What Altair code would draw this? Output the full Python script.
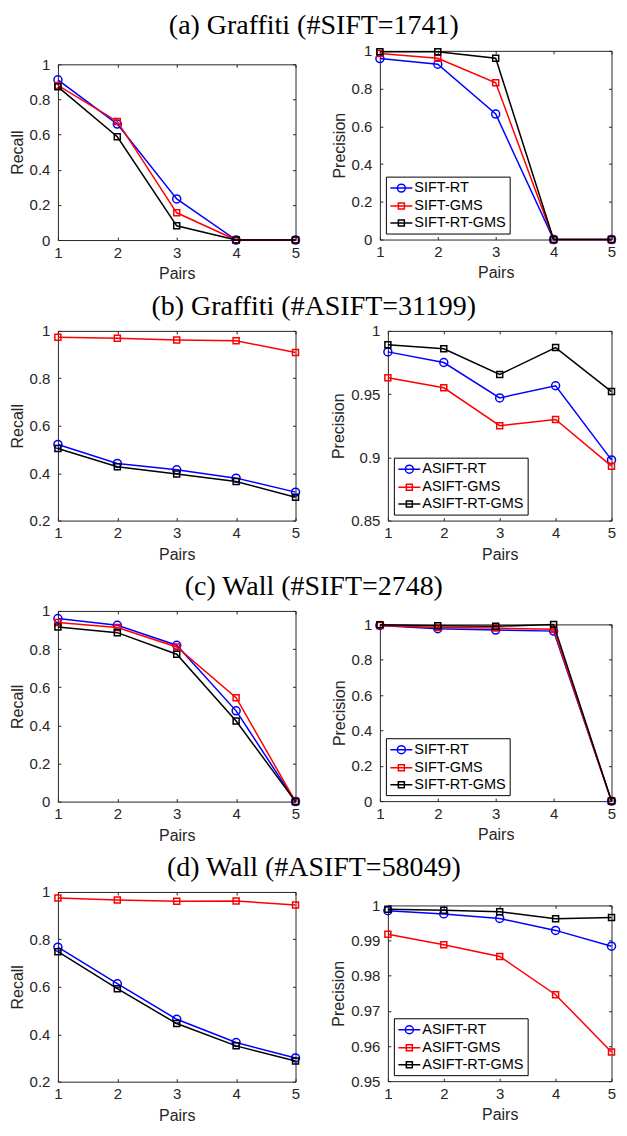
import altair as alt
import pandas as pd

pairs = [1, 2, 3, 4, 5]

# (a) Graffiti, SIFT
a_rec_rt = [0.912, 0.660, 0.234, 0.0, 0.0]
a_rec_gms = [0.880, 0.675, 0.155, 0.0, 0.0]
a_rec_rtgms = [0.872, 0.588, 0.081, 0.0, 0.0]
a_pre_rt = [0.959, 0.929, 0.665, 0.0, 0.0]
a_pre_gms = [0.986, 0.961, 0.831, 0.0, 0.0]
a_pre_rtgms = [0.995, 0.995, 0.961, 0.0, 0.0]

# (b) Graffiti, ASIFT
b_rec_rt = [0.521, 0.441, 0.414, 0.379, 0.320]
b_rec_gms = [0.973, 0.969, 0.962, 0.958, 0.909]
b_rec_rtgms = [0.504, 0.427, 0.396, 0.365, 0.298]
b_pre_rt = [0.9834, 0.975, 0.947, 0.9566, 0.898]
b_pre_gms = [0.963, 0.955, 0.925, 0.930, 0.893]
b_pre_rtgms = [0.989, 0.9858, 0.9655, 0.9868, 0.952]

# (c) Wall, SIFT
c_rec_rt = [0.960, 0.925, 0.820, 0.476, 0.0]
c_rec_gms = [0.939, 0.913, 0.811, 0.545, 0.0]
c_rec_rtgms = [0.916, 0.886, 0.773, 0.423, 0.0]
c_pre_rt = [0.994, 0.976, 0.968, 0.962, 0.0]
c_pre_gms = [0.994, 0.983, 0.979, 0.972, 0.0]
c_pre_rtgms = [0.998, 0.992, 0.989, 1.0, 0.0]

# (d) Wall, ASIFT
d_rec_rt = [0.767, 0.613, 0.463, 0.365, 0.300]
d_rec_gms = [0.975, 0.966, 0.961, 0.962, 0.945]
d_rec_rtgms = [0.748, 0.592, 0.445, 0.351, 0.287]
d_pre_rt = [0.9985, 0.9976, 0.9963, 0.9929, 0.9884]
d_pre_gms = [0.9918, 0.9888, 0.9855, 0.9746, 0.9583]
d_pre_rtgms = [0.9989, 0.9986, 0.9982, 0.9962, 0.9966]

sift_labels = ["SIFT-RT", "SIFT-GMS", "SIFT-RT-GMS"]
asift_labels = ["ASIFT-RT", "ASIFT-GMS", "ASIFT-RT-GMS"]
titles = ["(a) Graffiti (#SIFT=1741)", "(b) Graffiti (#ASIFT=31199)",
          "(c) Wall (#SIFT=2748)", "(d) Wall (#ASIFT=58049)"]

ticks_full = [0.0, 0.2, 0.4, 0.6, 0.8, 1.0]
ticks_rec_hi = [0.2, 0.4, 0.6, 0.8, 1.0]
ticks_pre_b = [0.85, 0.9, 0.95, 1.0]
ticks_pre_d = [0.95, 0.96, 0.97, 0.98, 0.99, 1.0]

colors = ["#0000ff", "#ff0000", "#000000"]
shapes = ["circle", "square", "square"]
sizes = [64, 36, 36]
# legend symbols: short line with marker on it
legend_paths = [
    "M-1,0H2.143M1.143,0A0.571,0.571,0,1,1,0,0A0.571,0.571,0,1,1,1.143,0Z",
    "M-1,0H2.143M0.143,-0.429H1V0.429H0.143Z",
    "M-1,0H2.143M0.143,-0.429H1V0.429H0.143Z",
]

AX = "#262626"


def panel(series, labels, ytitle, ydomain, yticks, width, height, legend=False):
    rows = []
    for lab, vals in zip(labels, series):
        for p, v in zip(pairs, vals):
            rows.append({"pair": p, "value": v, "series": lab})
    df = pd.DataFrame(rows)
    xs = alt.Scale(domain=[1, 5], nice=False, zero=False)
    ys = alt.Scale(domain=ydomain, nice=False, zero=False)
    ax_bottom = alt.Axis(orient="bottom", values=pairs, format="d", offset=-3,
                         tickSize=3, domain=False, grid=False, labelPadding=5,
                         labelFlush=False, title="Pairs", titlePadding=5.5)
    ax_top = alt.Axis(orient="top", values=pairs, offset=-3, tickSize=3,
                      domain=False, grid=False, labels=False, title=None)
    ax_left = alt.Axis(orient="left", values=yticks, format="~g", offset=-3,
                       tickSize=3, domain=False, grid=False, labelPadding=8,
                       labelFlush=False, title=ytitle, titlePadding=4)
    ax_right = alt.Axis(orient="right", values=yticks, offset=-3, tickSize=3,
                        domain=False, grid=False, labels=False, title=None)
    layers = []
    for i, lab in enumerate(labels):
        base = alt.Chart(df).transform_filter(alt.datum.series == lab)
        lx = ax_bottom if i == 0 else None
        ly = ax_left if i == 0 else None
        px = ax_top if i == 0 else None
        py = ax_right if i == 0 else None
        line = base.mark_line(color=colors[i], strokeWidth=1.5).encode(
            x=alt.X("pair:Q", scale=xs, axis=lx),
            y=alt.Y("value:Q", scale=ys, axis=ly),
        )
        pts = base.mark_point(shape=shapes[i], size=sizes[i], filled=False,
                              color=colors[i], strokeWidth=1.5, opacity=1).encode(
            x=alt.X("pair:Q", scale=xs, axis=px),
            y=alt.Y("value:Q", scale=ys, axis=py),
        )
        layers += [line, pts]
    if legend:
        leg = alt.Legend(title=None, orient="bottom-left", offset=6, padding=3.5,
                         strokeColor="#000000", fillColor="white",
                         symbolSize=196, symbolStrokeWidth=1.5,
                         labelFont="Liberation Sans", labelFontSize=14.5,
                         labelColor="#000000", labelOffset=9, rowPadding=2)
        carrier = alt.Chart(df).transform_filter("datum.pair < 0").mark_point(
            filled=False, strokeWidth=1.5, opacity=1).encode(
            x=alt.X("pair:Q", scale=xs, axis=None),
            y=alt.Y("value:Q", scale=ys, axis=None),
            color=alt.Color("series:N", scale=alt.Scale(domain=labels, range=colors), legend=leg),
            shape=alt.Shape("series:N", scale=alt.Scale(domain=labels, range=legend_paths), legend=leg),
        )
        layers.append(carrier)
    return alt.layer(*layers).resolve_axis(
        x="independent", y="independent").properties(width=width, height=height)


def lowered(chart, width):
    # an empty, invisible strip above a panel so that its frame starts lower
    spacer = alt.Chart(pd.DataFrame({"pair": []})).mark_point().encode(
        x=alt.X("pair:Q", axis=None)
    ).properties(width=width, height=1, view=alt.ViewBackground(stroke="transparent"))
    return alt.vconcat(spacer, chart, spacing=3.5).resolve_scale(
        color="independent", shape="independent")


def row(title, left, right, offset):
    return alt.hconcat(left, right, spacing=26.5,
                       title=alt.TitleParams(title, font="Liberation Serif", fontSize=28,
                                             fontWeight="normal", color="#000000",
                                             anchor="middle", offset=offset)
                       ).resolve_scale(color="independent", shape="independent")


row_a = row(titles[0],
            lowered(panel([a_rec_rt, a_rec_gms, a_rec_rtgms], sift_labels, "Recall", [0, 1], ticks_full, 238, 176), 238),
            panel([a_pre_rt, a_pre_gms, a_pre_rtgms], sift_labels, "Precision", [0, 1], ticks_full, 232, 189, legend=True),
            3)
row_b = row(titles[1],
            panel([b_rec_rt, b_rec_gms, b_rec_rtgms], asift_labels, "Recall", [0.2, 1], ticks_rec_hi, 238, 190),
            panel([b_pre_rt, b_pre_gms, b_pre_rtgms], asift_labels, "Precision", [0.85, 1], ticks_pre_b, 224, 190, legend=True),
            2.5)
row_c = row(titles[2],
            panel([c_rec_rt, c_rec_gms, c_rec_rtgms], sift_labels, "Recall", [0, 1], ticks_full, 238, 191),
            lowered(panel([c_pre_rt, c_pre_gms, c_pre_rtgms], sift_labels, "Precision", [0, 1], ticks_full, 232, 177, legend=True), 232),
            2.5)
row_d = row(titles[3],
            panel([d_rec_rt, d_rec_gms, d_rec_rtgms], asift_labels, "Recall", [0.2, 1], ticks_rec_hi, 238, 190),
            lowered(panel([d_pre_rt, d_pre_gms, d_pre_rtgms], asift_labels, "Precision", [0.95, 1], ticks_pre_d, 224, 176, legend=True), 224),
            2.5)

chart = alt.vconcat(row_a, row_b, row_c, row_d, spacing=10.5).resolve_scale(
    color="independent", shape="independent"
).properties(
    padding={"top": 3, "bottom": 2, "left": 0, "right": 0}, background="white"
).configure_view(
    stroke=AX, strokeWidth=1
).configure_axis(
    labelFont="Liberation Sans", labelFontSize=15, labelColor=AX,
    titleFont="Liberation Sans", titleFontSize=16, titleFontWeight="normal",
    titleColor=AX, tickColor=AX, tickWidth=1,
)

chart.save("out.html", embed_options={"renderer": "svg", "actions": False})
